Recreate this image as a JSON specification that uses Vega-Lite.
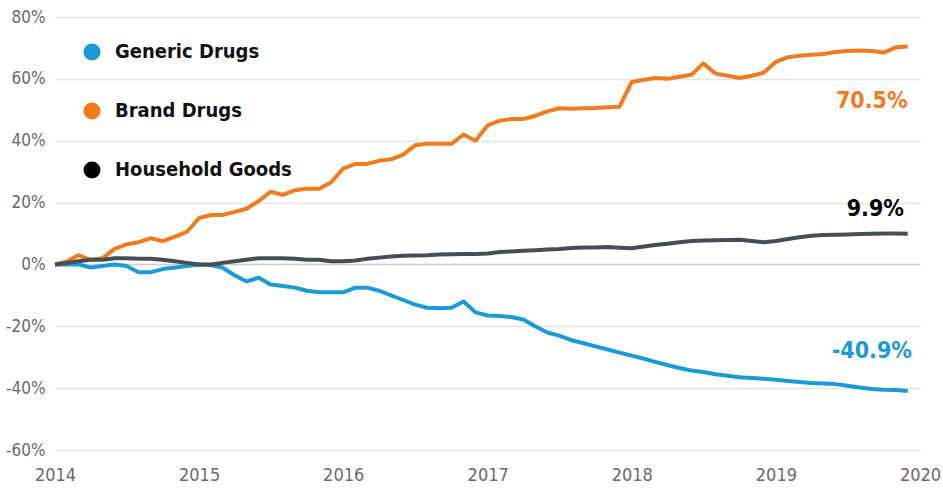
{
  "$schema": "https://vega.github.io/schema/vega-lite/v6.json",
  "autosize": "none",
  "width": 865,
  "height": 433,
  "padding": {"left": 55, "top": 17, "right": 23, "bottom": 40},
  "background": "white",
  "config": {"view": {"stroke": null}},
  "datasets": {
    "series": [
      {"d":"2014-01-01","g":0,"b":0,"h":0},
      {"d":"2014-02-01","g":0,"b":1,"h":0.5},
      {"d":"2014-03-01","g":0,"b":3,"h":1},
      {"d":"2014-04-01","g":-1,"b":1.5,"h":1.5},
      {"d":"2014-05-01","g":-0.5,"b":2,"h":1.5},
      {"d":"2014-06-01","g":0,"b":5,"h":2},
      {"d":"2014-07-01","g":-0.5,"b":6.5,"h":2},
      {"d":"2014-08-01","g":-2.5,"b":7.2,"h":1.8},
      {"d":"2014-09-01","g":-2.5,"b":8.5,"h":1.8},
      {"d":"2014-10-01","g":-1.5,"b":7.5,"h":1.5},
      {"d":"2014-11-01","g":-1,"b":9,"h":1},
      {"d":"2014-12-01","g":-0.5,"b":10.5,"h":0.5},
      {"d":"2015-01-01","g":0,"b":15,"h":0},
      {"d":"2015-02-01","g":-0.3,"b":16,"h":0},
      {"d":"2015-03-01","g":-1,"b":16,"h":0.5},
      {"d":"2015-04-01","g":-3.5,"b":17,"h":1},
      {"d":"2015-05-01","g":-5.5,"b":18,"h":1.5},
      {"d":"2015-06-01","g":-4.3,"b":20.5,"h":2},
      {"d":"2015-07-01","g":-6.5,"b":23.5,"h":2},
      {"d":"2015-08-01","g":-7,"b":22.5,"h":2},
      {"d":"2015-09-01","g":-7.5,"b":24,"h":1.8},
      {"d":"2015-10-01","g":-8.5,"b":24.5,"h":1.5},
      {"d":"2015-11-01","g":-9,"b":24.5,"h":1.5},
      {"d":"2015-12-01","g":-9,"b":26.5,"h":1},
      {"d":"2016-01-01","g":-9,"b":31,"h":1},
      {"d":"2016-02-01","g":-7.5,"b":32.5,"h":1.3},
      {"d":"2016-03-01","g":-7.5,"b":32.5,"h":1.8},
      {"d":"2016-04-01","g":-8.5,"b":33.5,"h":2.2},
      {"d":"2016-05-01","g":-10,"b":34,"h":2.6},
      {"d":"2016-06-01","g":-11.5,"b":35.5,"h":2.8},
      {"d":"2016-07-01","g":-13,"b":38.5,"h":2.9},
      {"d":"2016-08-01","g":-14,"b":39,"h":3},
      {"d":"2016-09-01","g":-14.2,"b":39,"h":3.2},
      {"d":"2016-10-01","g":-14,"b":39,"h":3.3},
      {"d":"2016-11-01","g":-12,"b":42,"h":3.4},
      {"d":"2016-12-01","g":-15.5,"b":40,"h":3.4},
      {"d":"2017-01-01","g":-16.5,"b":45,"h":3.5},
      {"d":"2017-02-01","g":-16.7,"b":46.5,"h":4},
      {"d":"2017-03-01","g":-17,"b":47,"h":4.2},
      {"d":"2017-04-01","g":-17.8,"b":47,"h":4.4},
      {"d":"2017-05-01","g":-20,"b":48,"h":4.6},
      {"d":"2017-06-01","g":-22,"b":49.5,"h":4.8},
      {"d":"2017-07-01","g":-23,"b":50.5,"h":5},
      {"d":"2017-08-01","g":-24.5,"b":50.3,"h":5.3},
      {"d":"2017-09-01","g":-25.5,"b":50.5,"h":5.5},
      {"d":"2017-10-01","g":-26.5,"b":50.6,"h":5.5},
      {"d":"2017-11-01","g":-27.5,"b":50.8,"h":5.6},
      {"d":"2017-12-01","g":-28.5,"b":51,"h":5.4},
      {"d":"2018-01-01","g":-29.5,"b":59,"h":5.2},
      {"d":"2018-02-01","g":-30.5,"b":59.7,"h":5.8},
      {"d":"2018-03-01","g":-31.5,"b":60.3,"h":6.3},
      {"d":"2018-04-01","g":-32.5,"b":60,"h":6.7},
      {"d":"2018-05-01","g":-33.5,"b":60.7,"h":7.2},
      {"d":"2018-06-01","g":-34.3,"b":61.3,"h":7.6},
      {"d":"2018-07-01","g":-34.8,"b":65,"h":7.7},
      {"d":"2018-08-01","g":-35.5,"b":61.7,"h":7.8},
      {"d":"2018-09-01","g":-36,"b":61,"h":7.9},
      {"d":"2018-10-01","g":-36.5,"b":60.3,"h":8},
      {"d":"2018-11-01","g":-36.7,"b":61,"h":7.6},
      {"d":"2018-12-01","g":-37,"b":62,"h":7.2},
      {"d":"2019-01-01","g":-37.3,"b":65.5,"h":7.6},
      {"d":"2019-02-01","g":-37.7,"b":67,"h":8.2},
      {"d":"2019-03-01","g":-38,"b":67.5,"h":8.8},
      {"d":"2019-04-01","g":-38.3,"b":67.8,"h":9.3},
      {"d":"2019-05-01","g":-38.5,"b":68,"h":9.5},
      {"d":"2019-06-01","g":-38.7,"b":68.7,"h":9.6},
      {"d":"2019-07-01","g":-39.2,"b":69,"h":9.7},
      {"d":"2019-08-01","g":-39.8,"b":69.2,"h":9.8},
      {"d":"2019-09-01","g":-40.3,"b":69,"h":9.9},
      {"d":"2019-10-01","g":-40.5,"b":68.5,"h":10},
      {"d":"2019-11-01","g":-40.6,"b":70.2,"h":10},
      {"d":"2019-12-01","g":-40.9,"b":70.5,"h":9.9}
    ],
    "labels": [
      {"d":"2019-09-01","v":52.7,"t":"70.5%","series":"Brand Drugs"},
      {"d":"2019-09-10","v":17.8,"t":"9.9%","series":"Household Goods"},
      {"d":"2019-09-01","v":-28.1,"t":"-40.9%","series":"Generic Drugs"}
    ],
    "zero": [{"z":0}]
  },
  "layer": [
    {
      "data": {"name": "zero"},
      "mark": {"type": "rule", "color": "#cfcfcf", "strokeWidth": 1.5},
      "encoding": {"y": {"field": "z", "type": "quantitative", "scale": {"domain": [-60, 80]}}}
    },
    {
      "data": {"name": "series"},
      "transform": [
        {"fold": ["g", "b", "h"], "as": ["k", "value"]},
        {"lookup": "k", "from": {"data": {"values": [
          {"k":"g","series":"Generic Drugs"},
          {"k":"b","series":"Brand Drugs"},
          {"k":"h","series":"Household Goods"}]}, "key": "k", "fields": ["series"]}}
      ],
      "mark": {"type": "line", "strokeWidth": 4, "strokeJoin": "round"},
      "encoding": {
        "x": {
          "field": "d", "type": "temporal",
          "scale": {"domain": ["2014-01-01", "2020-01-01"]},
          "axis": {
            "title": null, "grid": false, "domain": false, "ticks": false,
            "format": "%Y", "tickCount": {"interval": "year", "step": 1},
            "labelFlush": false, "labelOverlap": false,
            "labelFont": "DejaVu Sans Condensed, Roboto, sans-serif", "labelFontSize": 18,
            "labelColor": "#6a6a6a", "labelPadding": 16
          }
        },
        "y": {
          "field": "value", "type": "quantitative",
          "scale": {"domain": [-60, 80]},
          "axis": {
            "title": null, "values": [-60, -40, -20, 0, 20, 40, 60, 80],
            "labelExpr": "datum.value + '%'",
            "domain": false, "ticks": false, "gridColor": "#e4e4e4", "gridWidth": 1.5,
            "labelFont": "DejaVu Sans Condensed, Roboto, sans-serif", "labelFontSize": 17,
            "labelColor": "#6a6a6a", "labelPadding": 10
          }
        },
        "color": {
          "condition": {"test": "datum.series === 'Household Goods'", "value": "#484d55"},
          "field": "series", "type": "nominal",
          "scale": {"domain": ["Generic Drugs", "Brand Drugs", "Household Goods"],
                    "range": ["#1c9ad8", "#f07c1f", "#000000"]},
          "legend": {
            "title": null, "orient": "none", "legendX": 27, "legendY": 25,
            "symbolType": "circle", "symbolSize": 290, "symbolStrokeWidth": 0,
            "labelFont": "DejaVu Sans Condensed, Roboto, sans-serif", "labelFontSize": 20, "labelFontWeight": "bold",
            "labelColor": "#111", "labelOffset": 13, "rowPadding": 39, "labelLimit": 400,
            "symbolOpacity": 1
          }
        }
      }
    },
    {
      "data": {"name": "labels"},
      "mark": {"type": "text", "font": "DejaVu Sans Condensed, Roboto, sans-serif", "fontSize": 23, "fontWeight": "bold", "align": "center", "baseline": "middle"},
      "encoding": {
        "x": {"field": "d", "type": "temporal"},
        "y": {"field": "v", "type": "quantitative"},
        "text": {"field": "t"},
        "color": {"field": "series", "type": "nominal", "legend": null}
      }
    }
  ]
}
